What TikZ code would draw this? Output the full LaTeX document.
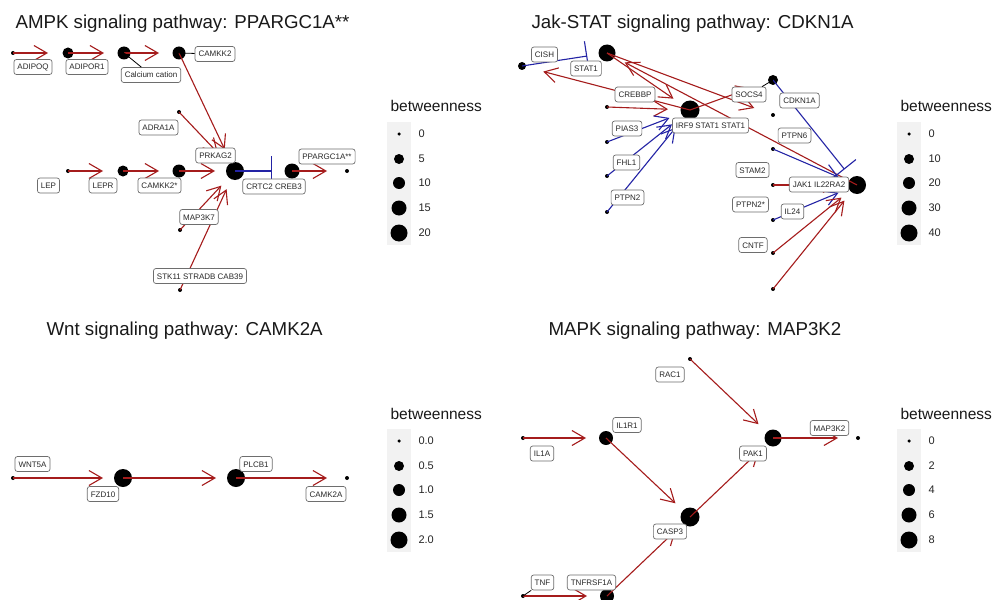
\documentclass[tikz,border=0pt]{standalone}
\usepackage{fontspec}
\setmainfont{Liberation Sans}
\usetikzlibrary{arrows.meta}
\definecolor{edgered}{RGB}{165,28,28}
\definecolor{edgeblue}{RGB}{35,35,165}
\definecolor{lblgray}{RGB}{110,110,110}
\definecolor{lbltext}{RGB}{40,40,40}
\definecolor{keybg}{RGB}{242,242,242}
\begin{document}
\begin{tikzpicture}[x=1pt,y=-1pt,
  vtx/.style={circle,fill=black,draw=none,inner sep=0pt,minimum size=#1},
  lbl/.style={draw=lblgray,fill=white,rounded corners=2.5pt,line width=0.7pt,
    font=\fontsize{8}{9}\selectfont,text=lbltext,inner xsep=3.5pt,inner ysep=0pt,
    minimum height=15pt,text height=6pt,text depth=0pt},
  act/.style={draw=edgered,line width=1.1pt,-{Straight Barb[length=13pt,width=15pt]},shorten >=20pt},
  actb/.style={draw=edgeblue,line width=1.1pt,-{Straight Barb[length=13pt,width=15pt]},shorten >=20pt},
  inh/.style={draw=edgeblue,line width=1.1pt,-{Bar[width=30pt]},shorten >=20pt},
  conn/.style={draw=black,line width=0.8pt},
  ttl/.style={anchor=base west,font=\fontsize{18.7}{21}\selectfont,text=black!90},
  legttl/.style={anchor=base west,font=\fontsize{15.5}{17}\selectfont,text=black!90},
  legtxt/.style={anchor=west,font=\fontsize{11}{12}\selectfont,text=black!85},
  key/.style={circle,fill=black,inner sep=0pt,minimum size=#1}]
\useasboundingbox (0,0) rectangle (992,599);
\fill[white] (0,0) rectangle (992,599);

% ---------------- titles ----------------
\node[ttl] (t1) at (12,29) {AMPK signaling pathway: PPARGC1A**};
\node[ttl] (t2) at (528,29) {Jak-STAT signaling pathway: CDKN1A};
\node[ttl] (t3) at (43,335) {Wnt signaling pathway: CAMK2A};
\node[ttl] (t4) at (545,335) {MAPK signaling pathway: MAP3K2};

% ---------------- vertices (drawn first, below the edges) ----------------
% AMPK
\node[vtx=4]  (adipoq)  at (13,53) {};
\node[vtx=11] (adipor1) at (68,53) {};
\node[vtx=13] (calc)    at (124,53) {};
\node[vtx=13] (camkk2)  at (179,53) {};
\node[vtx=4]  (adra1a)  at (179,112) {};
\node[vtx=18] (prkag2)  at (235,171) {};
\node[vtx=4]  (lep)     at (68,171) {};
\node[vtx=11] (lepr)    at (123,171) {};
\node[vtx=13] (camkk2s) at (179,171) {};
\node[vtx=4]  (map3k7)  at (180,230) {};
\node[vtx=4]  (stk11)   at (180,290) {};
\node[vtx=15] (crtc2)   at (292,171) {};
\node[vtx=4]  (ppargc)  at (347,171) {};
% Jak-STAT
\node[vtx=8]  (cish)    at (522,66) {};
\node[vtx=17] (stat1)   at (607,53) {};
\node[vtx=4]  (crebbp)  at (607,107) {};
\node[vtx=19] (irf9)    at (690,110) {};
\node[vtx=4]  (pias3)   at (607,142) {};
\node[vtx=4]  (fhl1)    at (607,176) {};
\node[vtx=4]  (ptpn2)   at (607,212) {};
\node[vtx=10] (socs4)   at (773,80) {};
\node[vtx=4]  (cdkn1a)  at (773,115) {};
\node[vtx=4]  (ptpn6)   at (773,149) {};
\node[vtx=4]  (stam2)   at (773,185) {};
\node[vtx=18] (jak1)    at (857,185) {};
\node[vtx=4]  (ptpn2s)  at (773,220) {};
\node[vtx=4]  (il24)    at (773,253) {};
\node[vtx=4]  (cntf)    at (773,289) {};
% Wnt
\node[vtx=4]  (wnt5a)   at (13,478) {};
\node[vtx=18] (fzd10)   at (123,478) {};
\node[vtx=18] (plcb1)   at (236,478) {};
\node[vtx=4]  (camk2a)  at (347,478) {};
% MAPK
\node[vtx=4]  (rac1)    at (690,359) {};
\node[vtx=4]  (il1a)    at (523,438) {};
\node[vtx=14] (il1r1)   at (606,438) {};
\node[vtx=19] (casp3)   at (690,517) {};
\node[vtx=17] (pak1)    at (773,438) {};
\node[vtx=4]  (map3k2)  at (858,438) {};
\node[vtx=4]  (tnf)     at (523,596) {};
\node[vtx=14] (tnfrsf)  at (607,596) {};

% ---------------- edges ----------------
% AMPK
\draw[act] (adipoq.center) -- (adipor1.center);
\draw[act] (adipor1.center) -- (calc.center);
\draw[act] (calc.center) -- (camkk2.center);
\draw[act,shorten >=24pt] (camkk2.center) -- (prkag2.center);
\draw[act,shorten >=25pt] (adra1a.center) -- (prkag2.center);
\draw[act] (lep.center) -- (lepr.center);
\draw[act] (lepr.center) -- (camkk2s.center);
\draw[act] (camkk2s.center) -- (prkag2.center);
\draw[act] (map3k7.center) -- (prkag2.center);
\draw[act] (stk11.center) -- (prkag2.center);
\draw[inh] (prkag2.center) -- (crtc2.center);
\draw[act] (crtc2.center) -- (ppargc.center);
% Jak-STAT
\draw[inh] (cish.center) -- (stat1.center);
\draw[act,shorten >=22pt] (irf9.center) -- (cish.center);
\draw[act] (stat1.center) -- (irf9.center);
\draw[act] (jak1.center) -- (stat1.center);
\draw[act] (stat1.center) -- (cdkn1a.center);
\draw[act,shorten >=22pt] (crebbp.center) -- (irf9.center);
\draw[act,shorten >=24pt] (irf9.center) -- (socs4.center);
\draw[actb,shorten >=22pt] (pias3.center) -- (irf9.center);
\draw[actb,shorten >=23pt] (fhl1.center) -- (irf9.center);
\draw[actb,shorten >=23pt] (ptpn2.center) -- (irf9.center);
\draw[inh] (socs4.center) -- (jak1.center);
\draw[actb] (ptpn6.center) -- (jak1.center);
\draw[act] (stam2.center) -- (jak1.center);
\draw[actb] (ptpn2s.center) -- (jak1.center);
\draw[act] (il24.center) -- (jak1.center);
\draw[act] (cntf.center) -- (jak1.center);
% Wnt
\draw[act] (wnt5a.center) -- (fzd10.center);
\draw[act] (fzd10.center) -- (plcb1.center);
\draw[act] (plcb1.center) -- (camk2a.center);
% MAPK
\draw[act] (rac1.center) -- (pak1.center);
\draw[act] (il1a.center) -- (il1r1.center);
\draw[act] (il1r1.center) -- (casp3.center);
\draw[act] (casp3.center) -- (pak1.center);
\draw[act] (pak1.center) -- (map3k2.center);
\draw[act] (tnf.center) -- (tnfrsf.center);
\draw[act] (tnfrsf.center) -- (casp3.center);

% ---------------- labels (on top of the edges) ----------------
% AMPK
\node[lbl] (Ladipoq)  at (33,67) {ADIPOQ};
\node[lbl] (Ladipor1) at (87,67) {ADIPOR1};
\node[lbl] (Lcalc)    at (151,75) {Calcium cation};
\node[lbl] (Lcamkk2)  at (215,54) {CAMKK2};
\node[lbl] (Ladra1a)  at (158.5,127.5) {ADRA1A};
\node[lbl] (Lprkag2)  at (215.5,155.5) {PRKAG2};
\node[lbl] (Llep)     at (48.5,185.5) {LEP};
\node[lbl] (Llepr)    at (103,185.5) {LEPR};
\node[lbl] (Lcamkk2s) at (159.5,185.5) {CAMKK2*};
\node[lbl] (Lmap3k7)  at (199,217) {MAP3K7};
\node[lbl] (Lstk11)   at (200,276) {STK11 STRADB CAB39};
\node[lbl] (Lcrtc2)   at (274,186.5) {CRTC2 CREB3};
\node[lbl] (Lppargc)  at (327,156.5) {PPARGC1A**};
% Jak-STAT
\node[lbl] (Lcish)    at (544.5,54.5) {CISH};
\node[lbl] (Lstat1)   at (586,68.5) {STAT1};
\node[lbl] (Lcrebbp)  at (635,94.5) {CREBBP};
\node[lbl] (Lirf9)    at (710.5,125.5) {IRF9 STAT1 STAT1};
\node[lbl] (Lpias3)   at (627,128.5) {PIAS3};
\node[lbl] (Lfhl1)    at (626.5,162.5) {FHL1};
\node[lbl] (Lptpn2)   at (627.5,197.5) {PTPN2};
\node[lbl] (Lsocs4)   at (749,94.5) {SOCS4};
\node[lbl] (Lcdkn1a)  at (799.5,100.5) {CDKN1A};
\node[lbl] (Lptpn6)   at (794.5,135.5) {PTPN6};
\node[lbl] (Ljak1)    at (819,184.5) {JAK1 IL22RA2};
\node[lbl] (Lstam2)   at (752.5,170) {STAM2};
\node[lbl] (Lptpn2s)  at (750.5,204.5) {PTPN2*};
\node[lbl] (Lil24)    at (792.5,211.5) {IL24};
\node[lbl] (Lcntf)    at (753,245) {CNTF};
% Wnt
\node[lbl] (Lwnt5a)   at (32.5,464) {WNT5A};
\node[lbl] (Lfzd10)   at (103,494) {FZD10};
\node[lbl] (Lplcb1)   at (256,464) {PLCB1};
\node[lbl] (Lcamk2a)  at (326,494) {CAMK2A};
% MAPK
\node[lbl] (Lrac1)    at (670,374.5) {RAC1};
\node[lbl] (Lil1a)    at (542,453.5) {IL1A};
\node[lbl] (Lil1r1)   at (627,425) {IL1R1};
\node[lbl] (Lcasp3)   at (670,531.5) {CASP3};
\node[lbl] (Lpak1)    at (753,453.5) {PAK1};
\node[lbl] (Lmap3k2)  at (829.5,428) {MAP3K2};
\node[lbl] (Ltnf)     at (542.5,582.5) {TNF};
\node[lbl] (Ltnfrsf)  at (591.5,582.5) {TNFRSF1A};

% label leader lines
\draw[conn] (calc.center) -- (Lcalc);
\draw[conn] (camkk2.center) -- (Lcamkk2);
\draw[conn] (socs4.center) -- (Lsocs4);
\draw[conn] (tnf.center) -- (Ltnf);

% ---------------- legends ----------------
% AMPK
\node[legttl] (g1) at (387,112) {betweenness};
\fill[keybg] (387,122) rectangle (411,245);
\node[key=3.5] (g1a) at (399,134) {}; \node[legtxt] at (415,134) {0};
\node[key=10]  (g1b) at (399,159) {}; \node[legtxt] at (415,159) {5};
\node[key=12]  (g1c) at (399,183) {}; \node[legtxt] at (415,183) {10};
\node[key=15]  (g1d) at (399,208) {}; \node[legtxt] at (415,208) {15};
\node[key=17]  (g1e) at (399,233) {}; \node[legtxt] at (415,233) {20};
% Jak-STAT
\node[legttl] (g2) at (897,112) {betweenness};
\fill[keybg] (897,122) rectangle (921,245);
\node[key=3.5] (g2a) at (909,134) {}; \node[legtxt] at (925,134) {0};
\node[key=10]  (g2b) at (909,159) {}; \node[legtxt] at (925,159) {10};
\node[key=12]  (g2c) at (909,183) {}; \node[legtxt] at (925,183) {20};
\node[key=15]  (g2d) at (909,208) {}; \node[legtxt] at (925,208) {30};
\node[key=17]  (g2e) at (909,233) {}; \node[legtxt] at (925,233) {40};
% Wnt
\node[legttl] (g3) at (387,419) {betweenness};
\fill[keybg] (387,429) rectangle (411,552);
\node[key=3.5] (g3a) at (399,441) {}; \node[legtxt] at (415,441) {0.0};
\node[key=10]  (g3b) at (399,466) {}; \node[legtxt] at (415,466) {0.5};
\node[key=12]  (g3c) at (399,490) {}; \node[legtxt] at (415,490) {1.0};
\node[key=15]  (g3d) at (399,515) {}; \node[legtxt] at (415,515) {1.5};
\node[key=17]  (g3e) at (399,540) {}; \node[legtxt] at (415,540) {2.0};
% MAPK
\node[legttl] (g4) at (897,419) {betweenness};
\fill[keybg] (897,429) rectangle (921,552);
\node[key=3.5] (g4a) at (909,441) {}; \node[legtxt] at (925,441) {0};
\node[key=10]  (g4b) at (909,466) {}; \node[legtxt] at (925,466) {2};
\node[key=12]  (g4c) at (909,490) {}; \node[legtxt] at (925,490) {4};
\node[key=15]  (g4d) at (909,515) {}; \node[legtxt] at (925,515) {6};
\node[key=17]  (g4e) at (909,540) {}; \node[legtxt] at (925,540) {8};
\end{tikzpicture}
\end{document}
